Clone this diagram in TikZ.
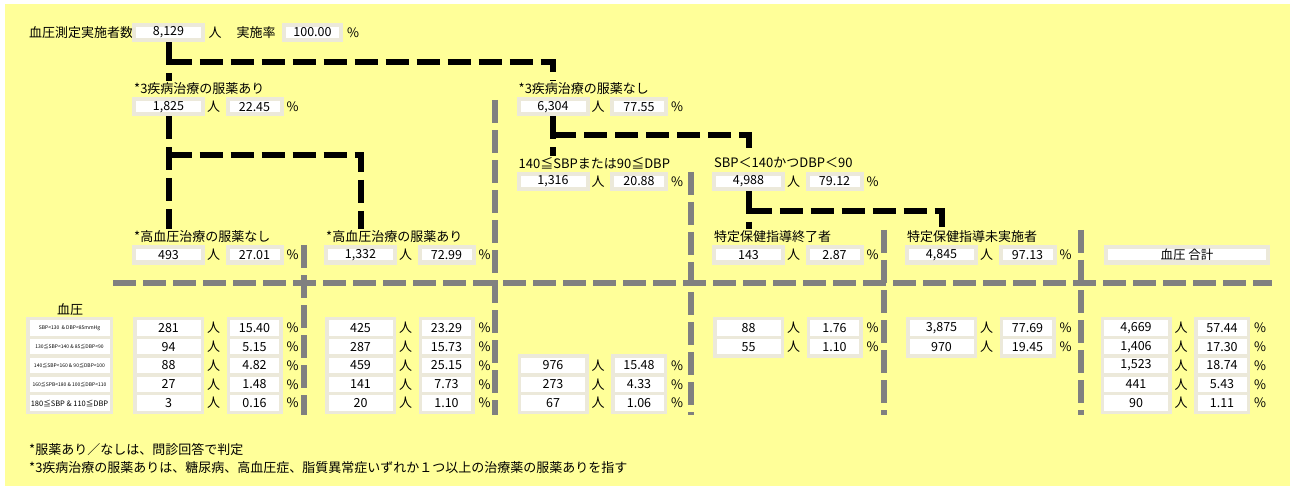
\documentclass[tikz,border=0pt]{standalone}
\usepackage{fontspec}
\setmainfont{Noto Sans CJK JP}
\usetikzlibrary{calc,positioning,backgrounds}

\definecolor{sheet}{RGB}{255,255,153}
\definecolor{frame}{RGB}{236,233,218}
\definecolor{sepgray}{RGB}{128,128,128}

% count box, unit, percent box, percent sign
\newcommand{\valpair}[5]{%
  \node[cnt] (#1c) at (#2,#3) {#4};
  \node[unit] (#1n) at (#2+45,#3) {人};
  \node[pct] (#1p) at (#2+86,#3) {#5};
  \node[unit] (#1u) at (#2+124,#3) {\%};
}

\begin{document}
\begin{tikzpicture}[x=1pt, y=-1pt,
    font=\fontsize{13}{15}\selectfont,
    valbox/.style={draw=frame, line width=4pt, fill=white, inner sep=0pt,
      minimum width=69pt, minimum height=15pt, font=\fontsize{12.5}{14}\selectfont},
    cnt/.style={valbox},
    pct/.style={valbox, minimum width=54pt},
    unit/.style={inner sep=0pt},
    lbl/.style={fill=sheet, inner sep=1pt, anchor=west},
    tree/.style={line width=6pt, dash pattern=on 23pt off 8pt},
    sep/.style={line width=6pt, dash pattern=on 23pt off 7pt, sepgray},
    rowcell/.style={valbox, line width=3.5pt, minimum width=83.5pt,
      minimum height=18.75pt, font=\fontsize{5}{6}\selectfont}]
  \useasboundingbox (0,0) rectangle (1292,486);
  \begin{scope}[on background layer]
    \fill[white] (0,0) rectangle (1292,486);
    \fill[sheet] (5,4) rectangle (1290,486);
  \end{scope}

  % totals
  \node[lbl] (totl) at (28,32.5) {血圧測定実施者数};
  \node[cnt] (totc) at (168.5,32.5) {8,129};
  \node[unit] (totn) at (215,32.5) {人};
  \node[unit] (rate) at (256,32.5) {実施率};
  \node[pct, minimum width=57pt] (totp) at (312.5,32.5) {100.00};
  \node[unit] (totu) at (353,32.5) {\%};

  % medication for 3 diseases
  \valpair{ari}{168.5}{107}{1,825}{22.45}
  \node[lbl] (aril) at ($(aric.west)+(1,-18.5)$) {*3疾病治療の服薬あり};
  \valpair{nas}{553}{107}{6,304}{77.55}
  \node[lbl] (nasl) at ($(nasc.west)+(1,-18.5)$) {*3疾病治療の服薬なし};

  % blood pressure split
  \valpair{hi}{553}{181.5}{1,316}{20.88}
  \node[lbl] (hil) at ($(hic.west)+(1,-18.5)$) {140≦SBPまたは90≦DBP};
  \valpair{lo}{748.5}{181.5}{4,988}{79.12}
  \node[lbl] (lol) at ($(loc.west)+(1,-18.5)$) {SBP＜140かつDBP＜90};

  % fourth row
  \valpair{hn}{168.5}{255}{493}{27.01}
  \node[lbl] (hnl) at ($(hnc.west)+(1,-18.5)$) {*高血圧治療の服薬なし};
  \valpair{ha}{360.5}{255}{1,332}{72.99}
  \node[lbl] (hal) at ($(hac.west)+(1,-18.5)$) {*高血圧治療の服薬あり};
  \valpair{done}{748.5}{255}{143}{2.87}
  \node[lbl] (donel) at ($(donec.west)+(1,-18.5)$) {特定保健指導終了者};
  \valpair{not}{941.5}{255}{4,845}{97.13}
  \node[lbl] (notl) at ($(notc.west)+(1,-18.5)$) {特定保健指導未実施者};
  \node[valbox, minimum width=162pt] (sum) at (1187,255) {血圧\ 合計};

  % table
  \node (bp) at (70,310) {血圧};
  \node[rowcell] (r1) at (69.5,328) {SBP<130 \ \& DBP<85mmHg};
  \node[rowcell] (r2) at (69.5,346.75) {130≦SBP<140 \& 85≦DBP<90};
  \node[rowcell] (r3) at (69.5,365.5) {140≦SBP<160 \& 90≦DBP<100};
  \node[rowcell] (r4) at (69.5,384.25) {160≦SPB<180 \& 100≦DBP<110};
  \node[rowcell, font=\fontsize{7.5}{9}\selectfont] (r5) at (69.5,403) {180≦SBP \& 110≦DBP};
  \begin{scope}[cnt/.style={valbox, line width=3.5pt, minimum width=67.5pt, minimum height=18.75pt},
                pct/.style={cnt, minimum width=52.5pt}]
    \valpair{a1}{168.5}{328}{281}{15.40}
    \valpair{a2}{168.5}{346.75}{94}{5.15}
    \valpair{a3}{168.5}{365.5}{88}{4.82}
    \valpair{a4}{168.5}{384.25}{27}{1.48}
    \valpair{a5}{168.5}{403}{3}{0.16}
    \valpair{b1}{360.5}{328}{425}{23.29}
    \valpair{b2}{360.5}{346.75}{287}{15.73}
    \valpair{b3}{360.5}{365.5}{459}{25.15}
    \valpair{b4}{360.5}{384.25}{141}{7.73}
    \valpair{b5}{360.5}{403}{20}{1.10}
    \valpair{c3}{553}{365.5}{976}{15.48}
    \valpair{c4}{553}{384.25}{273}{4.33}
    \valpair{c5}{553}{403}{67}{1.06}
    \valpair{d1}{748.5}{328}{88}{1.76}
    \valpair{d2}{748.5}{346.75}{55}{1.10}
    \valpair{e1}{941.5}{328}{3,875}{77.69}
    \valpair{e2}{941.5}{346.75}{970}{19.45}
    \valpair{f1}{1136}{328}{4,669}{57.44}
    \valpair{f2}{1136}{346.75}{1,406}{17.30}
    \valpair{f3}{1136}{365.5}{1,523}{18.74}
    \valpair{f4}{1136}{384.25}{441}{5.43}
    \valpair{f5}{1136}{403}{90}{1.11}
  \end{scope}

  % notes
  \node[anchor=west, inner sep=0pt] (fn1) at (29,449) {*服薬あり／なしは、問診回答で判定};
  \node[anchor=west, inner sep=0pt] (fn2) at (29,468) {*3疾病治療の服薬ありは、糖尿病、高血圧症、脂質異常症いずれか１つ以上の治療薬の服薬ありを指す};

  \begin{scope}[on background layer]
    \draw[tree] (totc.south) -- (totc.south |- aril.north);
    \draw[tree] (aric.south) -- (aric.south |- hnl.north);
    \draw[tree] (totc.south) ++(0,20) -| (nasc.north |- nasl.north);
    \draw[tree] (aric.south) ++(0,38.5) -| (hac.north |- hal.north);
    \draw[tree] (nasc.south) -- (nasc.south |- hil.north);
    \draw[tree] (nasc.south) ++(0,18.5) -| (loc.north |- lol.north);
    \draw[tree] (loc.south) -- (loc.south |- donel.north);
    \draw[tree] (loc.south) ++(0,20) -| (notc.north |- notl.north);
    \draw[sep] (113,283) -- (1272,283);
    \draw[sep] (304,245) -- (304,415);
    \draw[sep] (495,100) -- (495,415);
    \draw[sep] (691,172) -- (691,415);
    \draw[sep] (884,230) -- (884,415);
    \draw[sep] (1081,230) -- (1081,415);
  \end{scope}
\end{tikzpicture}
\end{document}
